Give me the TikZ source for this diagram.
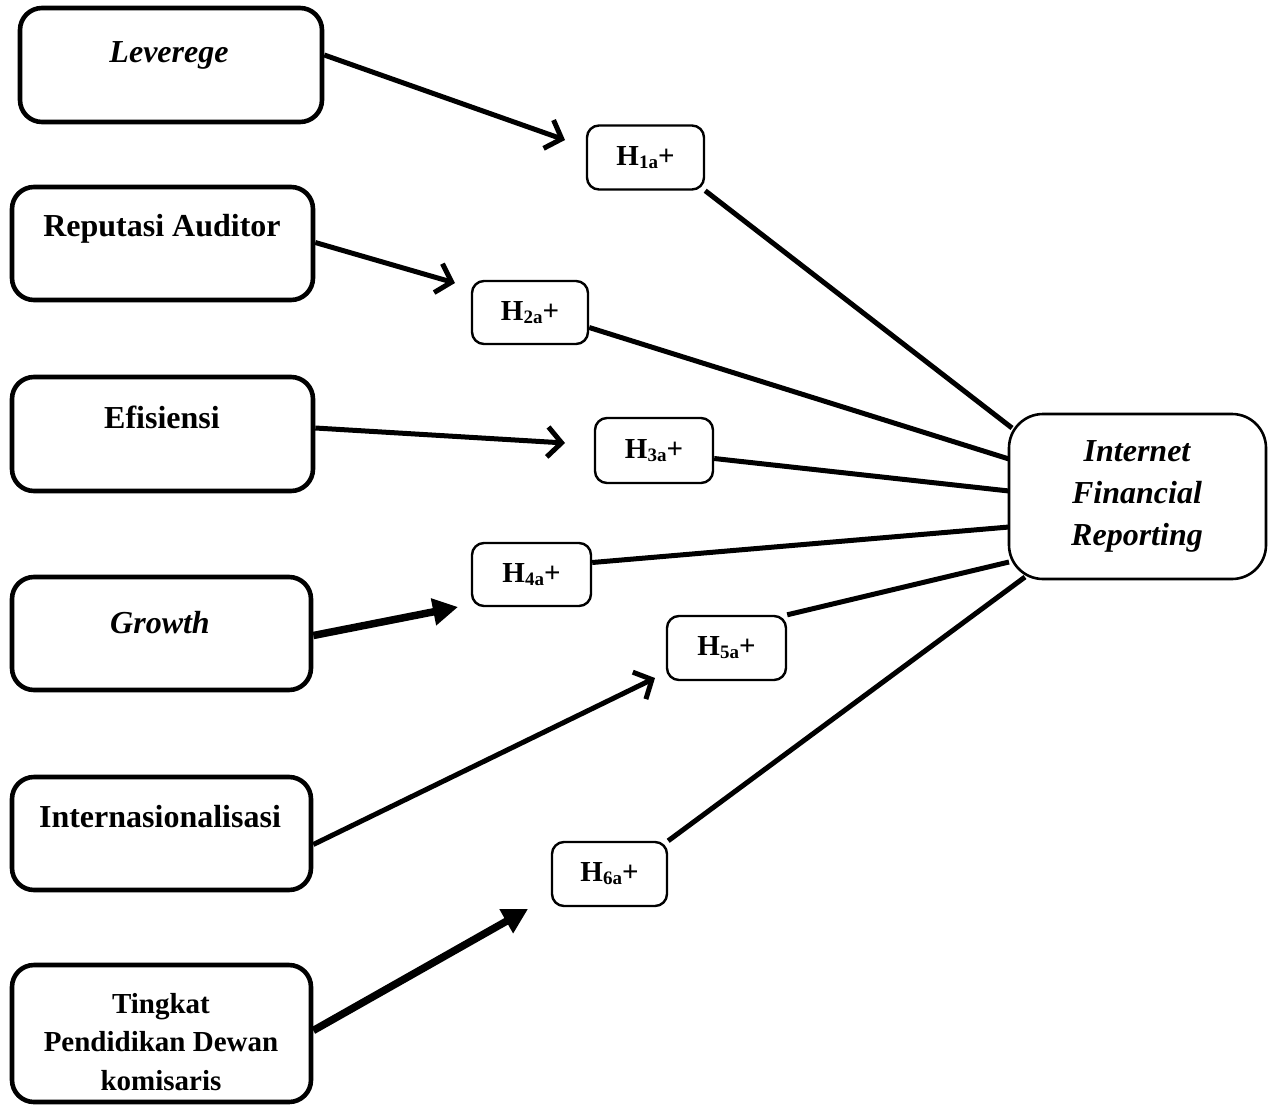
\documentclass[tikz,border=0pt]{standalone}
\usepackage{fontspec}
\setmainfont{Liberation Serif}
\usetikzlibrary{arrows.meta,calc}
\newcommand\hlab[1]{H\raisebox{-3pt}{\fontsize{19}{19}\selectfont #1}+}
\begin{document}
\begin{tikzpicture}[x=1pt,y=-1pt,
  bigbox/.style={draw,line width=4.6pt,rounded corners=22pt,inner sep=0pt,minimum width=300pt},
  hbox/.style={draw,line width=2.4pt,rounded corners=12pt,inner sep=0pt,minimum width=117pt,minimum height=64pt,font=\bfseries\fontsize{29}{29}\selectfont},
  ifrbox/.style={draw,line width=2.6pt,rounded corners=34pt,inner sep=0pt,minimum width=257pt,minimum height=165pt},
  lbl/.style={font=\bfseries\fontsize{32}{38}\selectfont,align=center,inner sep=0pt},
  link/.style={line width=5pt},
  openarr/.style={line width=5pt,-{Straight Barb[length=14pt,width=30pt]}},
  fillarr/.style={line width=7.5pt,-{Triangle[length=25pt,width=26pt]}}
]
\useasboundingbox (0,0) rectangle (1269,1106);

% left boxes
\node[bigbox,minimum width=302pt,minimum height=114pt] (lev) at (171,65) {};
\node[bigbox,minimum width=301pt,minimum height=113pt] (rep) at (162.5,243.5) {};
\node[bigbox,minimum width=301pt,minimum height=114pt] (efi) at (162.5,434) {};
\node[bigbox,minimum width=299pt,minimum height=113pt] (gro) at (161.5,633.5) {};
\node[bigbox,minimum width=299pt,minimum height=113pt] (int) at (161.5,833.5) {};
\node[bigbox,minimum width=299pt,minimum height=137pt] (tin) at (161.5,1033.5) {};

\node[lbl] (levt) at (169,55) {\itshape Leverege};
\node[lbl] (rept) at (162,229) {Reputasi Auditor};
\node[lbl] (efit) at (162,417) {Efisiensi};
\node[lbl] (grot) at (160,623) {\itshape Growth};
\node[lbl] (intt) at (160,817) {Internasionalisasi};
\node[lbl,font=\bfseries\fontsize{29}{38.5}\selectfont] (tint) at (161,1042) {Tingkat\\Pendidikan Dewan\\komisaris};

% hypothesis boxes
\node[hbox] (h1) at (645.5,157.5) {\hlab{1a}};
\node[hbox,minimum width=116pt,minimum height=63pt] (h2) at (530,312.5) {\hlab{2a}};
\node[hbox,minimum width=118pt,minimum height=65pt] (h3) at (654,450.5) {\hlab{3a}};
\node[hbox,minimum width=119pt,minimum height=63pt] (h4) at (531.5,574.5) {\hlab{4a}};
\node[hbox,minimum width=119pt] (h5) at (726.5,648) {\hlab{5a}};
\node[hbox,minimum width=115pt] (h6) at (609.5,874) {\hlab{6a}};

% IFR
\node[ifrbox] (ifr) at (1137.5,496.5) {};
\node[lbl,font=\bfseries\itshape\fontsize{32}{42}\selectfont] (ifrt) at (1137,496) {Internet\\Financial\\Reporting};

% arrow tips
\coordinate (t1) at (565,140);
\coordinate (t2) at (455,283);
\coordinate (t3) at (565,443);
\coordinate (t4) at (458,607);
\coordinate (t5) at (655,678);
\coordinate (t6) at (528,909);

\draw[openarr] ([yshift=10pt]lev.east) -- (t1);
\draw[openarr] ([yshift=1pt]rep.east) -- (t2);
\draw[openarr] ([yshift=6pt]efi.east) -- (t3);
\draw[fillarr] ([yshift=-2pt]gro.east) -- (t4);
\draw[openarr] ([yshift=-11pt]int.east) -- (t5);
\draw[fillarr] ([yshift=3pt]tin.east) -- (t6);

% links to IFR
\coordinate (e1) at (1012,428);
\coordinate (e2) at (1009,459);
\coordinate (e3) at (1009,491);
\coordinate (e4) at (1009,527);
\coordinate (e5) at (1009,562);
\coordinate (e6) at (1025,577);

\draw[link] (h1.south east) -- (e1);
\draw[link] ([yshift=-15pt]h2.east) -- (e2);
\draw[link] ([yshift=-8pt]h3.east) -- (e3);
\draw[link] ([yshift=12pt]h4.east) -- (e4);
\draw[link] (h5.north east) -- (e5);
\draw[link] (h6.north east) -- (e6);
\end{tikzpicture}
\end{document}
